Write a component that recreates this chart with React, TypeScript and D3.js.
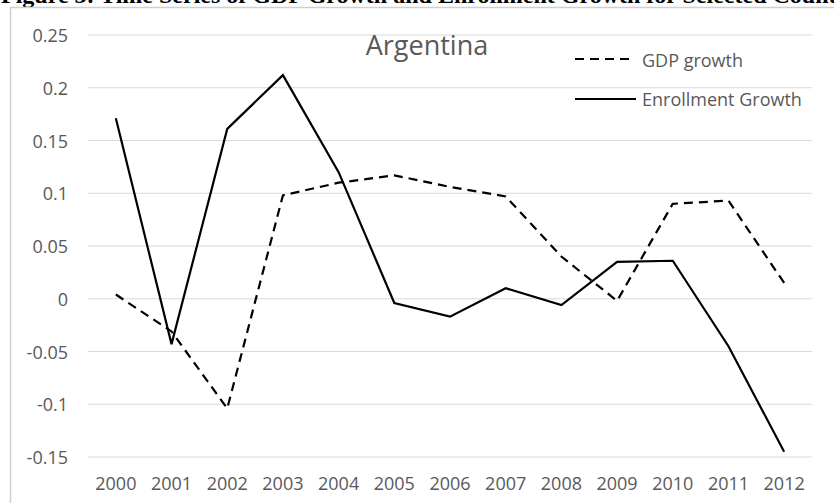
import React from "react";
import * as d3 from "d3";

// Years on the horizontal axis
const years: string[] = [
  "2000", "2001", "2002", "2003", "2004", "2005", "2006",
  "2007", "2008", "2009", "2010", "2011", "2012",
];

// Annual GDP growth, Argentina
const gdpGrowth: number[] = [
  0.004, -0.031, -0.104, 0.098, 0.110, 0.117, 0.106,
  0.097, 0.040, -0.002, 0.090, 0.093, 0.015,
];

// Annual enrollment growth, Argentina
const enrollmentGrowth: number[] = [
  0.171, -0.043, 0.161, 0.212, 0.120, -0.004, -0.017,
  0.010, -0.006, 0.035, 0.036, -0.045, -0.145,
];

// Value-axis ticks
const yTicks: number[] = [0.25, 0.2, 0.15, 0.1, 0.05, 0, -0.05, -0.1, -0.15];

const W = 834;
const H = 503;
const FONT = "'Open Sans', 'Noto Sans', sans-serif";
const TEXT = "#595959";
const GRID = "#d9d9d9";

export default function App() {
  const x = d3.scaleBand<string>().domain(years).range([88, 812]).padding(0);
  const y = d3.scaleLinear().domain([-0.15, 0.25]).range([457, 35]);
  const cx = (yr: string) => (x(yr) as number) + x.bandwidth() / 2;

  const line = d3
    .line<number>()
    .x((_, i) => cx(years[i]))
    .y((v) => y(v));

  const fmt = (v: number) => (v === 0 ? "0" : String(v));

  return (
    <svg
      width={W}
      height={H}
      viewBox={`0 0 ${W} ${H}`}
      style={{ position: "absolute", left: 0, top: 0, background: "#fff" }}
    >
      {/* Figure caption running above the chart frame */}
      <text
        x={1}
        y={3}
        fontFamily="'Liberation Serif', 'Times New Roman', serif"
        fontWeight="bold"
        fontSize={24}
        fill="#000"
      >
        Figure 3: Time Series of GDP Growth and Enrollment Growth for Selected Countries
      </text>

      {/* Chart frame */}
      <path d={`M10.5,${H} V7.5 H${W}`} fill="none" stroke="#d0d0d0" strokeWidth={1.5} />

      {/* Gridlines and value labels */}
      {yTicks.map((t) => (
        <g key={t}>
          <line x1={88} x2={812} y1={y(t)} y2={y(t)} stroke={GRID} strokeWidth={1} />
          <text
            x={68}
            y={y(t)}
            textAnchor="end"
            dominantBaseline="central"
            fontFamily={FONT}
            fontSize={18}
            fill={TEXT}
          >
            {fmt(t)}
          </text>
        </g>
      ))}

      {/* Year labels */}
      {years.map((yr) => (
        <text
          key={yr}
          x={cx(yr)}
          y={483}
          textAnchor="middle"
          dominantBaseline="central"
          fontFamily={FONT}
          fontSize={18}
          fill={TEXT}
        >
          {yr}
        </text>
      ))}

      {/* Series */}
      <path
        d={line(gdpGrowth) ?? ""}
        fill="none"
        stroke="#000"
        strokeWidth={2.2}
        strokeDasharray="9,6"
      />
      <path d={line(enrollmentGrowth) ?? ""} fill="none" stroke="#000" strokeWidth={2.2} />

      {/* Chart title */}
      <text
        x={427}
        y={55}
        textAnchor="middle"
        fontFamily={FONT}
        fontSize={27}
        fill={TEXT}
      >
        Argentina
      </text>

      {/* Legend */}
      <line x1={575} x2={630} y1={59} y2={59} stroke="#000" strokeWidth={2.2} strokeDasharray="9,6" />
      <text x={642} y={60} dominantBaseline="central" fontFamily={FONT} fontSize={18} fill={TEXT}>
        GDP growth
      </text>
      <line x1={575} x2={636} y1={99} y2={99} stroke="#000" strokeWidth={2.2} />
      <text x={642} y={99} dominantBaseline="central" fontFamily={FONT} fontSize={18} fill={TEXT}>
        Enrollment Growth
      </text>
    </svg>
  );
}
